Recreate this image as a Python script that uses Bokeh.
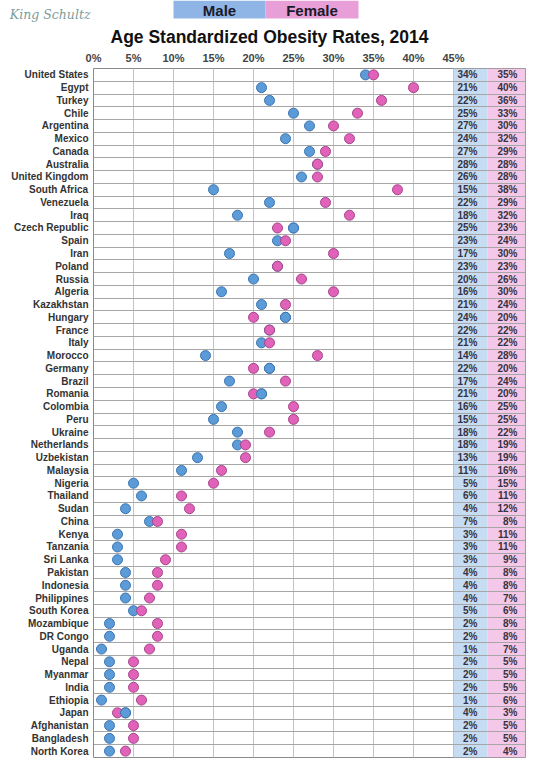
from bokeh.plotting import figure
from bokeh.models import Range1d, FixedTicker, ColumnDataSource, Title
from bokeh.layouts import column
from bokeh.embed import file_html
from bokeh.resources import INLINE
from bokeh.core.properties import value

# ---------------- data ----------------
countries = ["United States", "Egypt", "Turkey", "Chile", "Argentina", "Mexico", "Canada",
             "Australia", "United Kingdom", "South Africa", "Venezuela", "Iraq", "Czech Republic",
             "Spain", "Iran", "Poland", "Russia", "Algeria", "Kazakhstan", "Hungary", "France",
             "Italy", "Morocco", "Germany", "Brazil", "Romania", "Colombia", "Peru", "Ukraine",
             "Netherlands", "Uzbekistan", "Malaysia", "Nigeria", "Thailand", "Sudan", "China",
             "Kenya", "Tanzania", "Sri Lanka", "Pakistan", "Indonesia", "Philippines",
             "South Korea", "Mozambique", "DR Congo", "Uganda", "Nepal", "Myanmar", "India",
             "Ethiopia", "Japan", "Afghanistan", "Bangladesh", "North Korea"]
male = [34, 21, 22, 25, 27, 24, 27, 28, 26, 15, 22, 18, 25, 23, 17, 23, 20, 16, 21, 24, 22,
        21, 14, 22, 17, 21, 16, 15, 18, 18, 13, 11, 5, 6, 4, 7, 3, 3, 3, 4, 4, 4, 5, 2, 2, 1,
        2, 2, 2, 1, 4, 2, 2, 2]
female = [35, 40, 36, 33, 30, 32, 29, 28, 28, 38, 29, 32, 23, 24, 30, 23, 26, 30, 24, 20, 22,
          22, 28, 20, 24, 20, 25, 25, 22, 19, 19, 16, 15, 11, 12, 8, 11, 11, 9, 8, 8, 7, 6, 8,
          8, 7, 5, 5, 5, 6, 3, 5, 5, 4]
x_ticks = [0, 5, 10, 15, 20, 25, 30, 35, 40, 45]
x_tick_labels = ["0%", "5%", "10%", "15%", "20%", "25%", "30%", "35%", "40%", "45%"]
title_text = "Age Standardized Obesity Rates, 2014"
legend_labels = ["Male", "Female"]
watermark = "King Schultz"

# ---------------- styling ----------------
FONT = "Liberation Sans"
BLUE_DOT, BLUE_EDGE = "#5b9bd8", "#3d74b0"
PINK_DOT, PINK_EDGE = "#e062b9", "#a8448c"
BLUE_BOX, PINK_BOX = "#8fb5e6", "#e89ed6"
BLUE_COL, PINK_COL = "#c6dcf2", "#f4c8e8"

W = 540
LEFT, RIGHT = 93, 15
HDR_H = 22

# ---------------- header: legend boxes + watermark ----------------
hdr = figure(width=W, height=HDR_H, x_range=Range1d(LEFT, W - RIGHT),
             y_range=Range1d(HDR_H, 0), x_axis_type=None, title=None,
             min_border_left=LEFT, min_border_right=RIGHT,
             min_border_top=0, min_border_bottom=0,
             toolbar_location=None, output_backend="svg")
hdr.grid.visible = False
hdr.outline_line_color = None
hdr.quad(left=[173, 265], right=[265, 358], top=[0, 0], bottom=[18, 18],
         fill_color=[BLUE_BOX, PINK_BOX], line_color=None)
hdr.text(x=[219, 311.5], y=[9.5, 9.5], text=legend_labels, text_align="center",
         text_baseline="middle", text_font=value(FONT), text_font_style="bold",
         text_font_size="15px", text_color="#1a1a2a")
hdr.yaxis.ticker = FixedTicker(ticks=[14])
hdr.yaxis.major_label_overrides = {14: watermark}
hdr.yaxis.axis_line_color = None
hdr.yaxis.major_tick_line_color = None
hdr.yaxis.minor_tick_line_color = None
hdr.yaxis.major_tick_out = 0
hdr.yaxis.major_tick_in = 0
hdr.yaxis.major_label_standoff = 3
hdr.yaxis.major_label_text_font = "DejaVu Serif"
hdr.yaxis.major_label_text_font_style = "italic"
hdr.yaxis.major_label_text_font_size = "12.5px"
hdr.yaxis.major_label_text_color = "#7c9c9c"

# ---------------- main chart ----------------
n = len(countries)
idx = list(range(n))
src = ColumnDataSource(dict(
    y=idx, male=male, female=female,
    mlab=[f"{v}%" for v in male], flab=[f"{v}%" for v in female],
))

p = figure(width=W, height=736, x_range=Range1d(0, 54), y_range=Range1d(n - 0.5, -0.5),
           x_axis_location="above", title=None, toolbar_location=None, output_backend="svg",
           min_border_left=LEFT, min_border_right=RIGHT, min_border_top=44, min_border_bottom=1)
p.outline_line_color = "#8a8a8a"
p.outline_line_width = 1

p.add_layout(Title(text=title_text, align="left", offset=17, standoff=4,
                   text_font=FONT, text_font_style="bold", text_font_size="17.5px",
                   text_color="#111111"), "above")

# table columns (behind grid)
p.quad(left=[45, 49.25], right=[49.25, 54], top=[-0.5, -0.5], bottom=[n - 0.5, n - 0.5],
       fill_color=[BLUE_COL, PINK_COL], line_color=None, level="image")

# grids
p.xgrid.ticker = FixedTicker(ticks=x_ticks)
p.xgrid.grid_line_color = "#c4c4c4"
p.ygrid.ticker = FixedTicker(ticks=[k - 0.5 for k in range(n + 1)])
p.ygrid.grid_line_color = "#a6a6a6"

# axes
p.xaxis.ticker = FixedTicker(ticks=x_ticks)
p.xaxis.major_label_overrides = {t: l for t, l in zip(x_ticks, x_tick_labels)}
p.xaxis.axis_line_color = None
p.xaxis.major_tick_line_color = None
p.xaxis.minor_tick_line_color = None
p.xaxis.major_tick_out = 0
p.xaxis.major_tick_in = 0
p.xaxis.major_label_standoff = 5
p.xaxis.major_label_text_font = FONT
p.xaxis.major_label_text_font_style = "bold"
p.xaxis.major_label_text_font_size = "11px"
p.xaxis.major_label_text_color = "#444444"

p.yaxis.ticker = FixedTicker(ticks=idx)
p.yaxis.major_label_overrides = {i: c for i, c in zip(idx, countries)}
p.yaxis.axis_line_color = None
p.yaxis.major_tick_line_color = None
p.yaxis.minor_tick_line_color = None
p.yaxis.major_tick_out = 0
p.yaxis.major_tick_in = 0
p.yaxis.major_label_standoff = 5
p.yaxis.major_label_text_font = FONT
p.yaxis.major_label_text_font_style = "bold"
p.yaxis.major_label_text_font_size = "10px"
p.yaxis.major_label_text_color = "#333333"

# dots
p.scatter(x="male", y="y", source=src, size=10, fill_color=BLUE_DOT, line_color=BLUE_EDGE,
          line_width=1)
p.scatter(x="female", y="y", source=src, size=10, fill_color=PINK_DOT, line_color=PINK_EDGE,
          line_width=1)
# male dots on top where male rate is higher
hi = [i for i in idx if male[i] > female[i]]
p.scatter(x=[male[i] for i in hi], y=hi, size=10, fill_color=BLUE_DOT, line_color=BLUE_EDGE,
          line_width=1)

# table texts
p.text(x=48.0, y="y", text="mlab", source=src, text_align="right", text_baseline="middle",
       text_font=value(FONT), text_font_style="bold", text_font_size="10px",
       text_color="#333344")
p.text(x=53.0, y="y", text="flab", source=src, text_align="right", text_baseline="middle",
       text_font=value(FONT), text_font_style="bold", text_font_size="10px",
       text_color="#333344")

layout = column(hdr, p, spacing=0)
open("out.html", "w").write(file_html(layout, INLINE))
